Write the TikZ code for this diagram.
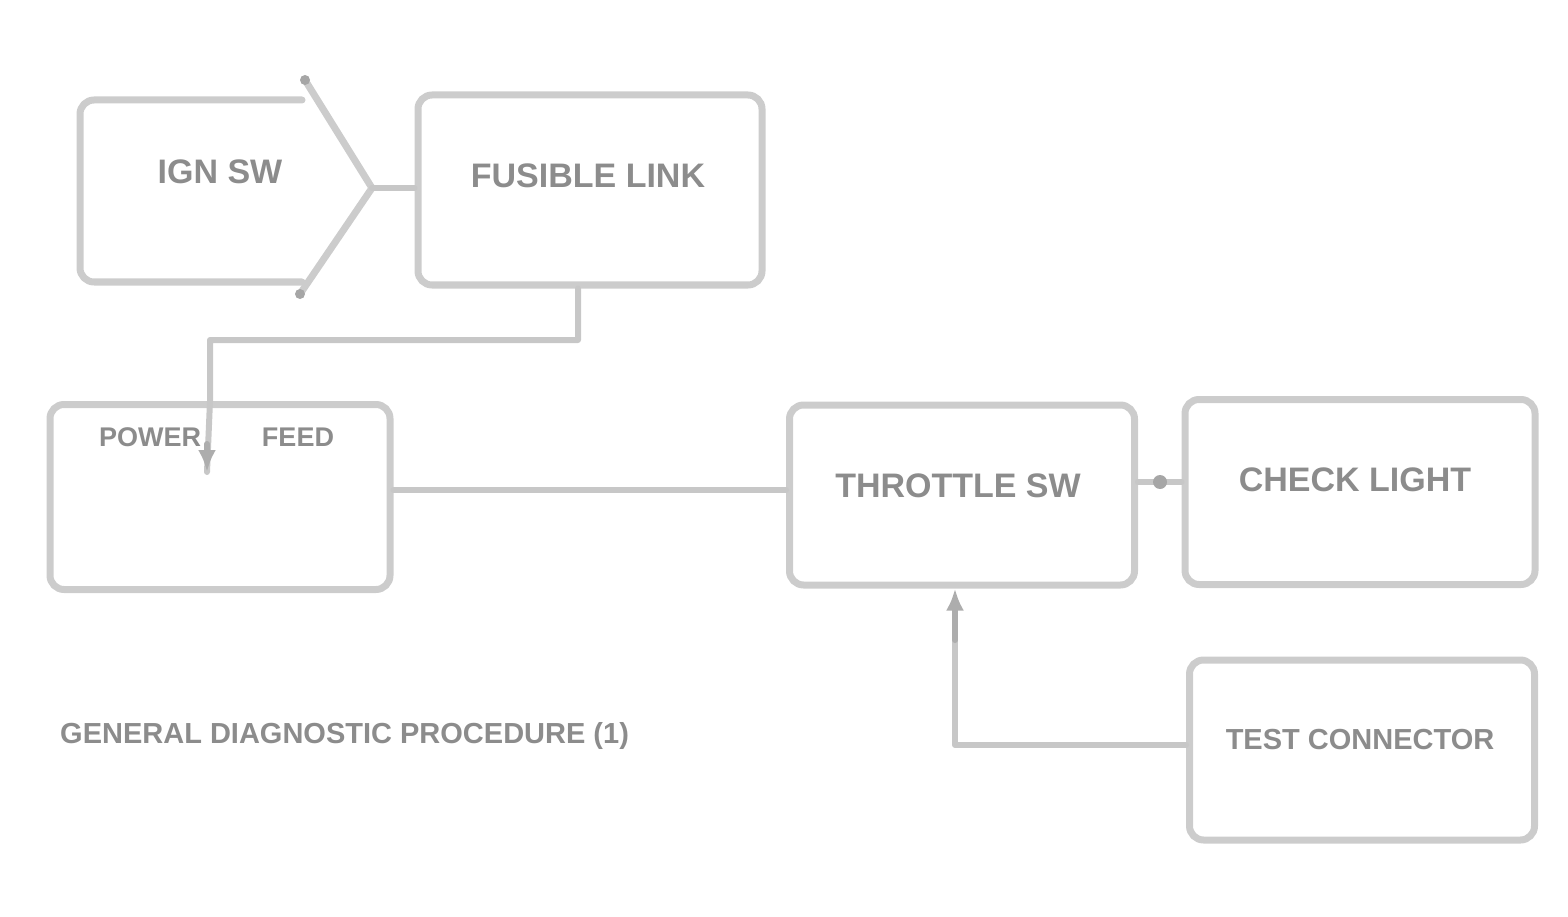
\documentclass[tikz,border=0pt]{standalone}
\usepackage{fontspec}
\setmainfont{Liberation Sans}
\usetikzlibrary{arrows.meta,calc}
\tikzset{
  wire/.style={draw=black!22, line width=6pt, line cap=round, line join=round},
  boxd/.style={draw=black!20, line width=7pt, rounded corners=14pt, minimum width=#1, inner sep=0pt},
  lbl/.style={text=black!45, font=\bfseries\fontsize{34}{36}\selectfont, inner sep=0pt},
  small/.style={text=black!45, font=\bfseries\fontsize{27}{29}\selectfont, inner sep=0pt},
  blob/.style={fill=black!35, draw=none, circle, minimum size=14pt, inner sep=0pt},
  tip/.style={-{Latex[length=22pt,width=18pt]}}
}
\begin{document}
\begin{tikzpicture}[x=1pt,y=-1pt]
\useasboundingbox (0,0) rectangle (1568,917);
% box A (connector-shaped)
\coordinate (Atip) at (372,188);
\coordinate (Atop) at (305,80);
\coordinate (Abot) at (300,294);
\draw[wire, draw=black!20, line width=7pt, rounded corners=14pt] (302,100) -- (80,100) -- (80,282) -- (302,282);
\draw[wire, draw=black!20, line width=7pt] (Atop) -- (Atip) -- (Abot);
\node[blob, minimum size=10pt] at (Atop) {};
\node[blob, minimum size=10pt] at (Abot) {};
\node[lbl] (Alab) at (220,172) {IGN SW};
% boxes
\node[boxd=344pt, minimum height=190pt] (B) at (590,190) {};
\node[lbl] (Blab) at (588,176) {FUSIBLE LINK};
\node[boxd=340pt, minimum height=185pt] (C) at (220,497) {};
\node[small] (Cl1) at (150,437) {POWER};
\node[small] (Cl2) at (298,437) {FEED};
\node[boxd=345pt, minimum height=180pt] (D) at (962,495) {};
\node[lbl] (Dlab) at (958,486) {THROTTLE SW};
\node[boxd=350pt, minimum height=185pt] (E) at (1360,492) {};
\node[lbl] (Elab) at (1355,480) {CHECK LIGHT};
\node[boxd=345pt, minimum height=180pt] (F) at (1362,750) {};
\node[lbl, font=\bfseries\fontsize{29}{31}\selectfont] (Flab) at (1360,740) {TEST CONNECTOR};
% caption
\node[small, font=\bfseries\fontsize{29}{31}\selectfont, anchor=west] (cap) at (60,736) {GENERAL DIAGNOSTIC PROCEDURE (1)};
% connectors
\draw[wire] (Atip) -- (Atip -| B.west);
\coordinate (Bd) at (578,340);
\coordinate (Cin) at (210,340);
\coordinate (Cend) at (207,472);
\draw[wire] (B.south -| Bd) -- (Bd) -- (Cin) -- (Cin |- C.north) -- (Cend);
\draw[wire, tip, draw=black!32] ($(Cend)+(0,-28)$) -- (Cend);
\draw[wire] (C.east |- 0,490) -- (D.west |- 0,490);
\draw[wire] (D.east |- 0,482) -- (E.west |- 0,482);
\node[blob] (DEm) at (1160,482) {};
\coordinate (Fc) at (955,745);
\draw[wire] (F.west |- Fc) -- (Fc) -- (Fc |- 0,640);
\draw[wire, tip, draw=black!32] (Fc |- 0,640) -- (Fc |- D.south);
\end{tikzpicture}
\end{document}
